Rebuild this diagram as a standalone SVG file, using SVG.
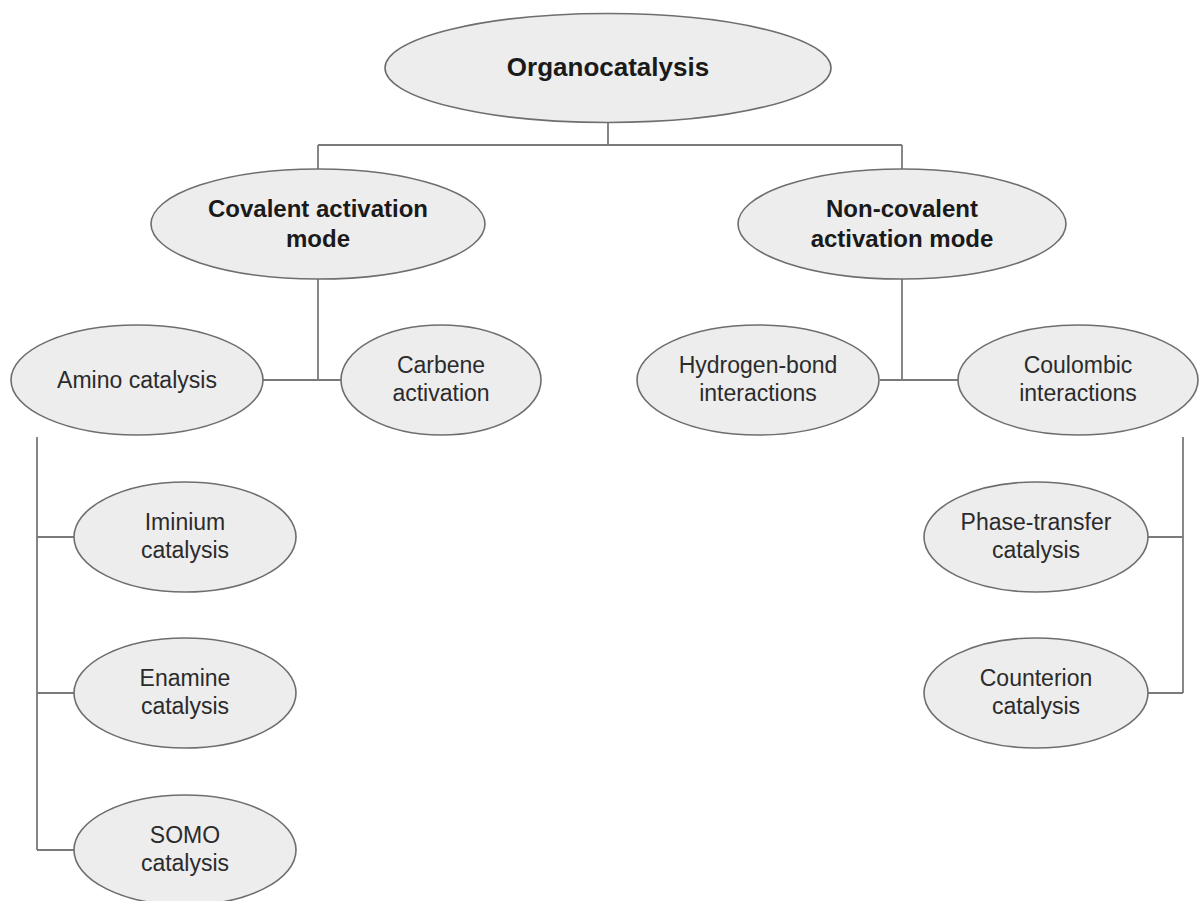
<svg xmlns="http://www.w3.org/2000/svg" width="1199" height="901" viewBox="0 0 1199 901">
<style>
.node ellipse{fill:#ededed;stroke:#6e6e6e;stroke-width:1.6}
.t{font-family:"Liberation Sans",Arial,sans-serif;font-size:23px;fill:#2b2b2b;text-anchor:middle}
.b{font-family:"Liberation Sans",Arial,sans-serif;font-weight:bold;font-size:24px;fill:#1a1a1a;text-anchor:middle}
.conn path{fill:none;stroke:#7a7a7a;stroke-width:1.8}
</style>
<rect width="1199" height="901" fill="#ffffff"/>
<g class="conn" id="connectors">
<path d="M608,122 V145 M318,145 H902 M318,145 V169 M902,145 V169"/>
<path d="M318,279 V380 M263,380 H341"/>
<path d="M902,279 V380 M880,380 H958"/>
<path d="M37,437 V850 M37,537 H75 M37,693 H75 M37,850 H75"/>
<path d="M1183,437 V693 M1183,537 H1147 M1183,693 H1147"/>
</g>
<g class="node" id="organocatalysis">
<ellipse cx="608" cy="68" rx="223" ry="54.5"/>
<text class="b" x="608" y="76" style="font-size:26px">Organocatalysis</text>
</g>
<g class="node" id="covalent">
<ellipse cx="318" cy="224" rx="167" ry="55"/>
<text class="b" x="318" y="217">Covalent activation</text>
<text class="b" x="318" y="247">mode</text>
</g>
<g class="node" id="noncovalent">
<ellipse cx="902" cy="224" rx="164" ry="55"/>
<text class="b" x="902" y="217">Non-covalent</text>
<text class="b" x="902" y="247">activation mode</text>
</g>
<g class="node" id="amino">
<ellipse cx="137" cy="380" rx="126" ry="55"/>
<text class="t" x="137" y="388">Amino catalysis</text>
</g>
<g class="node" id="carbene">
<ellipse cx="441" cy="380" rx="100" ry="55"/>
<text class="t" x="441" y="373">Carbene</text>
<text class="t" x="441" y="401">activation</text>
</g>
<g class="node" id="hbond">
<ellipse cx="758" cy="380" rx="121" ry="55"/>
<text class="t" x="758" y="373">Hydrogen-bond</text>
<text class="t" x="758" y="401">interactions</text>
</g>
<g class="node" id="coulombic">
<ellipse cx="1078" cy="380" rx="120" ry="55"/>
<text class="t" x="1078" y="373">Coulombic</text>
<text class="t" x="1078" y="401">interactions</text>
</g>
<g class="node" id="iminium">
<ellipse cx="185" cy="537" rx="111" ry="55"/>
<text class="t" x="185" y="530">Iminium</text>
<text class="t" x="185" y="558">catalysis</text>
</g>
<g class="node" id="enamine">
<ellipse cx="185" cy="693" rx="111" ry="55"/>
<text class="t" x="185" y="686">Enamine</text>
<text class="t" x="185" y="714">catalysis</text>
</g>
<g class="node" id="somo">
<ellipse cx="185" cy="850" rx="111" ry="55"/>
<text class="t" x="185" y="843">SOMO</text>
<text class="t" x="185" y="871">catalysis</text>
</g>
<g class="node" id="phasetransfer">
<ellipse cx="1036" cy="537" rx="112" ry="55"/>
<text class="t" x="1036" y="530">Phase-transfer</text>
<text class="t" x="1036" y="558">catalysis</text>
</g>
<g class="node" id="counterion">
<ellipse cx="1036" cy="693" rx="112" ry="55"/>
<text class="t" x="1036" y="686">Counterion</text>
<text class="t" x="1036" y="714">catalysis</text>
</g>
</svg>
